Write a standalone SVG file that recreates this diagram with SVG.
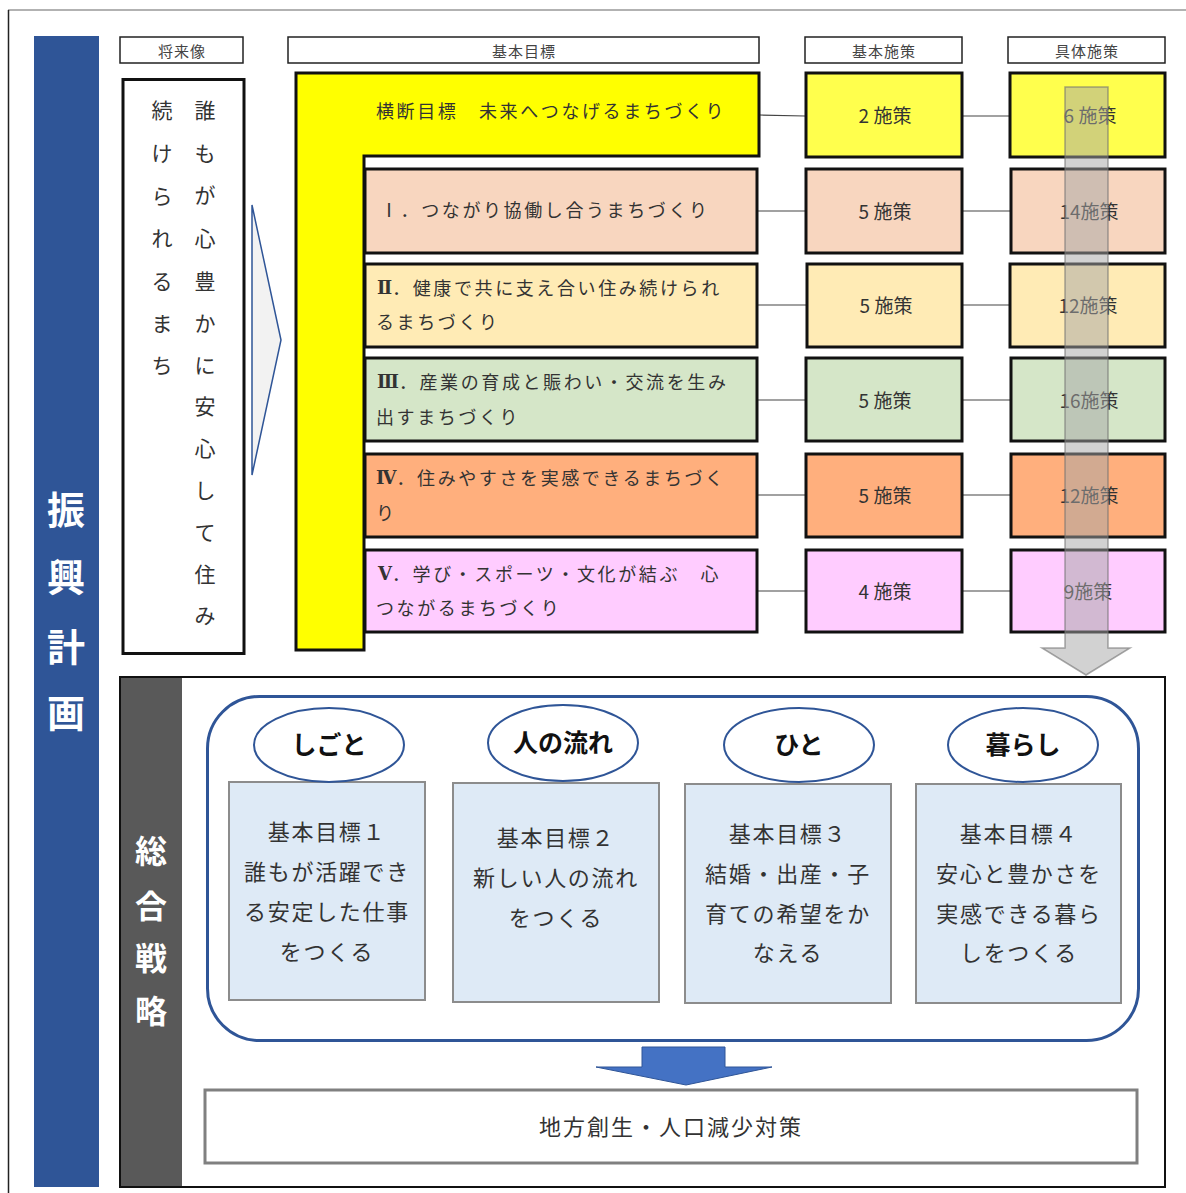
<svg xmlns="http://www.w3.org/2000/svg" width="1186" height="1193" viewBox="0 0 1186 1193">
<style>
text{font-family:"Noto Sans CJK JP","Noto Sans CJK SC",sans-serif;fill:#333;dominant-baseline:central}
.hdr{fill:#fff;stroke:#222;stroke-width:1.5}
.hdrt{font-size:15px;text-anchor:middle;fill:#444;letter-spacing:1px}
.box{stroke:#111;stroke-width:3}
.row{font-size:18px;letter-spacing:2.6px}
.rn{font-family:"DejaVu Serif","Liberation Serif",serif;font-weight:bold;letter-spacing:0;font-size:18px}
.cnt{font-size:19px;text-anchor:middle}
.conn{stroke:#444;stroke-width:1.2;fill:none}
.ell{fill:#fff;stroke:#2F5597;stroke-width:2}
.ellt{font-size:25px;font-weight:bold;text-anchor:middle;fill:#111}
.goal{fill:#DEEAF6;stroke:#8C8C8C;stroke-width:2}
.goalt{font-size:22px;text-anchor:middle;letter-spacing:1.7px}
.vt{font-size:21px;text-anchor:middle}
.side{font-weight:bold;text-anchor:middle;fill:#fff}
</style>
<rect width="1186" height="1193" fill="#fff"/>
<g id="frame">
<line x1="8" y1="10" x2="1186" y2="10" stroke="#999" stroke-width="1.5"/>
<line x1="8.5" y1="10" x2="8.5" y2="1193" stroke="#222" stroke-width="1.5"/>
</g>
<g id="shinko-bar">
<rect x="34" y="36" width="65" height="1151" fill="#2F5597"/>
<text class="side" font-size="38" x="66" y="507">振</text>
<text class="side" font-size="38" x="66" y="574">興</text>
<text class="side" font-size="38" x="66" y="644">計</text>
<text class="side" font-size="38" x="66" y="710">画</text>
</g>
<g id="headers">
<rect class="hdr" x="120" y="37" width="123" height="26"/><text class="hdrt" x="182" y="50">将来像</text>
<rect class="hdr" x="288" y="37" width="471" height="26"/><text class="hdrt" x="524" y="50">基本目標</text>
<rect class="hdr" x="805" y="37" width="157" height="26"/><text class="hdrt" x="884" y="50">基本施策</text>
<rect class="hdr" x="1008" y="37" width="157" height="26"/><text class="hdrt" x="1087" y="50">具体施策</text>
</g>
<g id="vision">
<rect x="123" y="79.5" width="121" height="574" fill="#fff" stroke="#111" stroke-width="3"/>
<text class="vt"><tspan x="205" y="109">誰</tspan><tspan x="205" y="152">も</tspan><tspan x="205" y="194">が</tspan><tspan x="205" y="237">心</tspan><tspan x="205" y="280">豊</tspan><tspan x="205" y="322">か</tspan><tspan x="205" y="364">に</tspan><tspan x="205" y="405">安</tspan><tspan x="205" y="447">心</tspan><tspan x="205" y="489">し</tspan><tspan x="205" y="531">て</tspan><tspan x="205" y="573">住</tspan><tspan x="205" y="614">み</tspan></text>
<text class="vt"><tspan x="162" y="109">続</tspan><tspan x="162" y="152">け</tspan><tspan x="162" y="195">ら</tspan><tspan x="162" y="237">れ</tspan><tspan x="162" y="280">る</tspan><tspan x="162" y="322">ま</tspan><tspan x="162" y="364">ち</tspan></text>
</g>
<g id="vision-arrow">
<path d="M252,205 L281,340 L252,475 Z" fill="#F2F2F2" stroke="#2F5597" stroke-width="1.5"/>
</g>
<g id="connectors">
<line class="conn" x1="760" y1="115" x2="805" y2="116"/><line class="conn" x1="962" y1="116" x2="1010" y2="116"/>
<line class="conn" x1="758" y1="211" x2="805" y2="211"/><line class="conn" x1="962" y1="211" x2="1010" y2="211"/>
<line class="conn" x1="758" y1="305" x2="807" y2="305"/><line class="conn" x1="962" y1="305" x2="1010" y2="305"/>
<line class="conn" x1="758" y1="400" x2="805" y2="400"/><line class="conn" x1="962" y1="400" x2="1010" y2="400"/>
<line class="conn" x1="758" y1="495" x2="805" y2="495"/><line class="conn" x1="962" y1="495" x2="1010" y2="495"/>
<line class="conn" x1="758" y1="591" x2="805" y2="591"/><line class="conn" x1="962" y1="591" x2="1010" y2="591"/>
</g>
<g id="cross-goal">
<path class="box" d="M296,73 H759 V156 H364 V650 H296 Z" fill="#FFFF00"/>
<text class="row" x="376" y="110">横断目標　未来へつなげるまちづくり</text>
</g>
<g id="goal-1"><rect class="box" x="365" y="169" width="392" height="84" fill="#F8D6BF"/><text class="row" x="380" y="209">Ⅰ．つながり協働し合うまちづくり</text></g>
<g id="goal-2"><rect class="box" x="365" y="264" width="392" height="83" fill="#FFEBB5"/><text class="row"><tspan x="377" y="287"><tspan class="rn">Ⅱ</tspan>．健康で共に支え合い住み続けられ</tspan><tspan x="376" y="321">るまちづくり</tspan></text></g>
<g id="goal-3"><rect class="box" x="365" y="358" width="392" height="83" fill="#D5E6C8"/><text class="row"><tspan x="377" y="381"><tspan class="rn">Ⅲ</tspan>．産業の育成と賑わい・交流を生み</tspan><tspan x="376" y="416">出すまちづくり</tspan></text></g>
<g id="goal-4"><rect class="box" x="365" y="454" width="392" height="83" fill="#FFAF7D"/><text class="row"><tspan x="376" y="477"><tspan class="rn">Ⅳ</tspan>．住みやすさを実感できるまちづく</tspan><tspan x="376" y="512">り</tspan></text></g>
<g id="goal-5"><rect class="box" x="365" y="550" width="392" height="82" fill="#FFCCFF"/><text class="row"><tspan x="378" y="573"><tspan class="rn">Ⅴ</tspan>．学び・スポーツ・文化が結ぶ　心</tspan><tspan x="376" y="607">つながるまちづくり</tspan></text></g>
<g id="basic-policies">
<rect class="box" x="806" y="73" width="156" height="84" fill="#FFFF4D"/><text class="cnt" x="885" y="114">2 施策</text>
<rect class="box" x="806" y="169" width="156" height="84" fill="#F8D6BF"/><text class="cnt" x="885" y="210">5 施策</text>
<rect class="box" x="807" y="264" width="155" height="83" fill="#FFEBB5"/><text class="cnt" x="886" y="304">5 施策</text>
<rect class="box" x="806" y="358" width="156" height="83" fill="#D5E6C8"/><text class="cnt" x="885" y="399">5 施策</text>
<rect class="box" x="806" y="454" width="156" height="83" fill="#FFAF7D"/><text class="cnt" x="885" y="494">5 施策</text>
<rect class="box" x="806" y="550" width="156" height="82" fill="#FFCCFF"/><text class="cnt" x="885" y="590">4 施策</text>
</g>
<g id="concrete-policies">
<rect class="box" x="1010" y="73" width="155" height="84" fill="#FFFF4D"/><text class="cnt" x="1090" y="114">6 施策</text>
<rect class="box" x="1011" y="169" width="154" height="84" fill="#F8D6BF"/><text class="cnt" x="1089" y="210">14施策</text>
<rect class="box" x="1010" y="264" width="155" height="83" fill="#FFEBB5"/><text class="cnt" x="1088" y="304">12施策</text>
<rect class="box" x="1011" y="358" width="154" height="83" fill="#D5E6C8"/><text class="cnt" x="1089" y="399">16施策</text>
<rect class="box" x="1011" y="454" width="154" height="83" fill="#FFAF7D"/><text class="cnt" x="1089" y="494">12施策</text>
<rect class="box" x="1011" y="550" width="154" height="82" fill="#FFCCFF"/><text class="cnt" x="1088" y="590">9施策</text>
</g>
<g id="gray-arrow">
<path d="M1065,87 H1108 V648 H1130 L1086,675 L1042,648 H1065 Z" fill="#A6A6A6" fill-opacity="0.5" stroke="#707070" stroke-opacity="0.6" stroke-width="1.5"/>
</g>
<g id="strategy">
<rect x="120" y="677" width="1045" height="510" fill="#fff" stroke="#111" stroke-width="2"/>
<rect x="121" y="678" width="61" height="508" fill="#595959"/>
<text class="side" font-size="32" x="151" y="849">総</text>
<text class="side" font-size="32" x="151" y="904">合</text>
<text class="side" font-size="32" x="151" y="956">戦</text>
<text class="side" font-size="32" x="151" y="1009">略</text>
<rect x="207.5" y="696.5" width="931" height="344" rx="52" fill="#fff" stroke="#2F5597" stroke-width="3"/>
</g>
<g id="pillar-1">
<rect class="goal" x="229" y="782" width="196" height="218"/>
<ellipse class="ell" cx="329" cy="745" rx="75" ry="37"/><text class="ellt" x="329" y="743">しごと</text>
<text class="goalt"><tspan x="327" y="830">基本目標１</tspan><tspan x="327" y="870">誰もが活躍でき</tspan><tspan x="327" y="910">る安定した仕事</tspan><tspan x="327" y="950">をつくる</tspan></text>
</g>
<g id="pillar-2">
<rect class="goal" x="453" y="783" width="206" height="219"/>
<ellipse class="ell" cx="563" cy="743" rx="75" ry="38"/><text class="ellt" x="563" y="741">人の流れ</text>
<text class="goalt"><tspan x="556" y="836">基本目標２</tspan><tspan x="556" y="876">新しい人の流れ</tspan><tspan x="556" y="916">をつくる</tspan></text>
</g>
<g id="pillar-3">
<rect class="goal" x="685" y="784" width="206" height="219"/>
<ellipse class="ell" cx="799" cy="745" rx="75" ry="37"/><text class="ellt" x="799" y="743">ひと</text>
<text class="goalt"><tspan x="788" y="832">基本目標３</tspan><tspan x="788" y="872">結婚・出産・子</tspan><tspan x="788" y="912">育ての希望をか</tspan><tspan x="788" y="951">なえる</tspan></text>
</g>
<g id="pillar-4">
<rect class="goal" x="916" y="784" width="205" height="219"/>
<ellipse class="ell" cx="1023" cy="745" rx="75" ry="37"/><text class="ellt" x="1023" y="743">暮らし</text>
<text class="goalt"><tspan x="1019" y="832">基本目標４</tspan><tspan x="1019" y="872">安心と豊かさを</tspan><tspan x="1019" y="912">実感できる暮ら</tspan><tspan x="1019" y="951">しをつくる</tspan></text>
</g>
<g id="blue-arrow">
<path d="M642,1047 H725 V1067 H772 L686,1085 L596,1067 H642 Z" fill="#4472C4" stroke="#2F5597" stroke-width="1"/>
</g>
<g id="regional">
<rect x="205" y="1090" width="932" height="73" fill="#fff" stroke="#808080" stroke-width="3"/>
<text x="671" y="1125" font-size="22" text-anchor="middle" letter-spacing="2">地方創生・人口減少対策</text>
</g>
</svg>
